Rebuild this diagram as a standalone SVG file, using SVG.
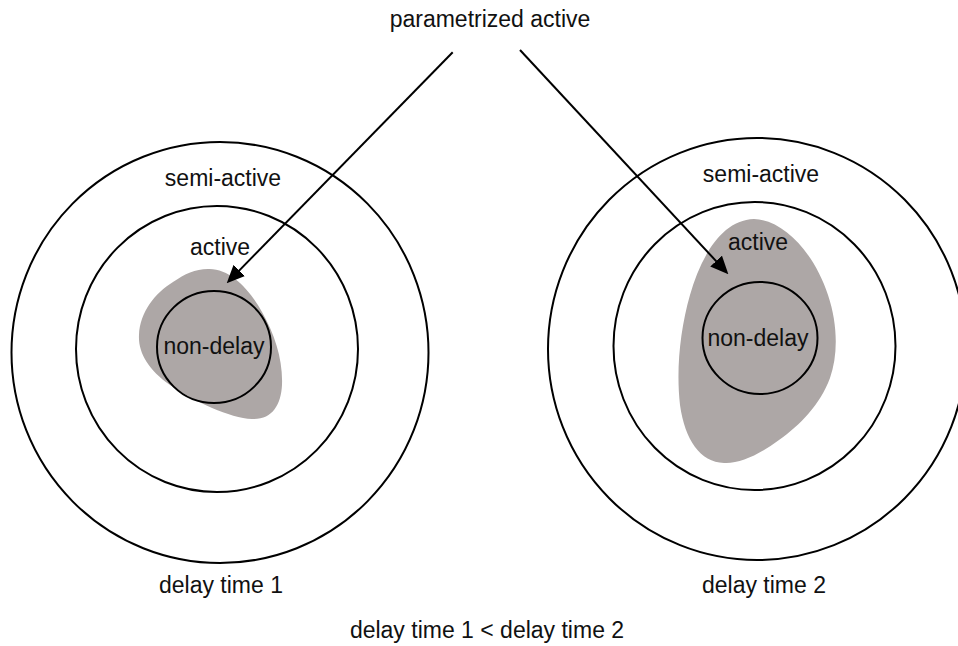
<svg xmlns="http://www.w3.org/2000/svg" width="958" height="646" viewBox="0 0 958 646">
  <style>
    .ring { fill: none; stroke: #000; stroke-width: 2; }
    .region { fill: #ada7a6; stroke: none; }
    .lbl { font-family: "Liberation Sans", Arial, sans-serif; font-size: 23px; fill: #111; text-anchor: middle; }
    .conn { fill: none; stroke: #000; stroke-width: 2; }
  </style>
  <defs>
    <marker id="arrowhead" viewBox="0 0 18 16" refX="10" refY="8" markerWidth="18" markerHeight="16" markerUnits="userSpaceOnUse" orient="auto">
      <path d="M0,0 L18,8 L0,16 Z" fill="#000"/>
    </marker>
  </defs>

  <rect width="958" height="646" fill="#fff"/>

  <!-- Top label -->
  <g id="parametrized-active">
    <text class="lbl" x="490" y="27">parametrized active</text>
  </g>

  <!-- Case 1: short delay time -->
  <g id="case1">
    <g id="case1-parametrized-region">
      <path class="region" d="M208,269 C230,268 250,290 262,312 C275,335 283,360 282,385 C281,405 272,420 252,419 C230,418 195,402 170,385 C148,370 138,352 139,335 C140,312 155,293 173,282 C185,274 195,269 208,269 Z"/>
    </g>
    <g id="case1-semi-active">
      <ellipse class="ring" cx="220" cy="352.5" rx="208.5" ry="210.5"/>
      <text class="lbl" x="223" y="186">semi-active</text>
    </g>
    <g id="case1-active">
      <ellipse class="ring" cx="217" cy="349" rx="141" ry="143"/>
      <text class="lbl" x="220" y="255">active</text>
    </g>
    <g id="case1-non-delay">
      <ellipse class="ring" cx="214" cy="347" rx="57" ry="56"/>
      <text class="lbl" x="214" y="354">non-delay</text>
    </g>
    <text class="lbl" x="221" y="593">delay time 1</text>
  </g>

  <!-- Case 2: longer delay time -->
  <g id="case2">
    <g id="case2-parametrized-region">
      <path class="region" d="M754,219 C785,220 815,255 828,295 C838,325 838,355 830,378 C820,405 800,425 779,440 C760,454 740,464 724,463 C700,462 685,440 680,405 C676,370 680,330 690,295 C700,260 720,220 754,219 Z"/>
    </g>
    <g id="case2-semi-active">
      <ellipse class="ring" cx="757" cy="349" rx="209" ry="211"/>
      <text class="lbl" x="761" y="182">semi-active</text>
    </g>
    <g id="case2-active">
      <ellipse class="ring" cx="754.5" cy="346" rx="141" ry="144"/>
      <text class="lbl" x="758" y="250">active</text>
    </g>
    <g id="case2-non-delay">
      <ellipse class="ring" cx="760" cy="338" rx="57.5" ry="56"/>
      <text class="lbl" x="758" y="346">non-delay</text>
    </g>
    <text class="lbl" x="764" y="593">delay time 2</text>
  </g>

  <!-- Comparison caption -->
  <g id="caption">
    <text class="lbl" x="487" y="638">delay time 1 &lt; delay time 2</text>
  </g>

  <!-- Arrows from the top label into each parametrized region -->
  <g id="connectors">
    <line class="conn" x1="452.7" y1="52.3" x2="232.3" y2="277.6" marker-end="url(#arrowhead)"/>
    <line class="conn" x1="520" y1="50" x2="722.9" y2="268.4" marker-end="url(#arrowhead)"/>
  </g>
</svg>
